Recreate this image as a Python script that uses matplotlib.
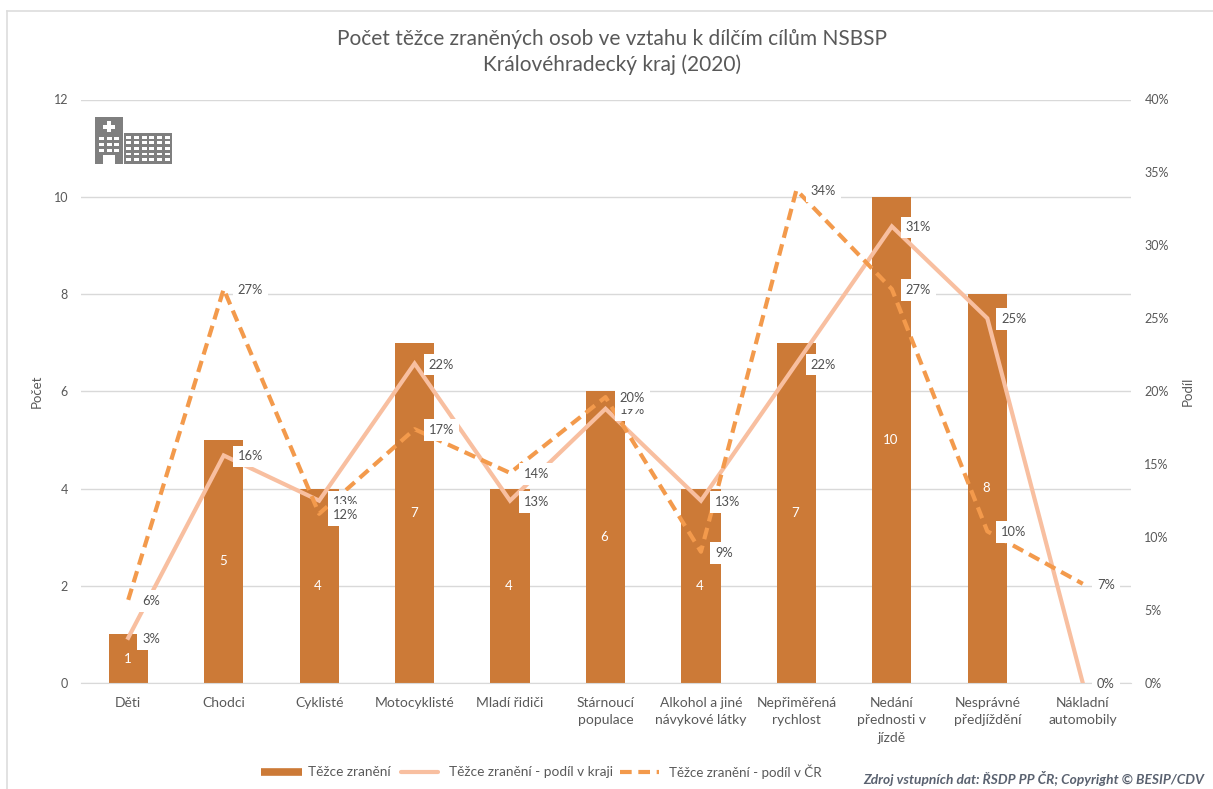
import math
import matplotlib
matplotlib.use("Agg")
import matplotlib.pyplot as plt
from matplotlib.lines import Line2D
from matplotlib.patches import Rectangle
from matplotlib.ticker import PercentFormatter

plt.rcParams['font.family'] = ['Lato', 'DejaVu Sans']

categories = ["Děti", "Chodci", "Cyklisté", "Motocyklisté", "Mladí řidiči", "Stárnoucí\npopulace",
              "Alkohol a jiné\nnávykové látky", "Nepřiměřená\nrychlost", "Nedání\npřednosti v\njízdě",
              "Nesprávné\npředjíždění", "Nákladní\nautomobily"]
counts = [1, 5, 4, 7, 4, 6, 4, 7, 10, 8, 0]
share_region = [3.1, 15.6, 12.5, 21.9, 12.5, 18.8, 12.5, 21.9, 31.3, 25.0, 0.0]
share_cr = [5.7, 27.0, 11.6, 17.4, 14.4, 19.6, 9.0, 33.8, 27.0, 10.4, 6.8]
title = "Počet těžce zraněných osob ve vztahu k dílčím cílům NSBSP\nKrálovéhradecký kraj (2020)"
source = "Zdroj vstupních dat: ŘSDP PP ČR; Copyright © BESIP/CDV"

BAR = "#CC7A37"
LIGHT = "#F8BFA0"
DASH = "#F39A4C"
TXT = "#595959"
W, H = 1213, 789

fig = plt.figure(figsize=(W / 100, H / 100), dpi=100, facecolor="white")
ax = fig.add_axes([80.5 / W, (H - 683) / H, 1050 / W, 583.5 / H])
ax2 = ax.twinx()
x = list(range(len(categories)))

ax.bar(x, counts, width=0.41, color=BAR, zorder=2)
ax.set_xlim(-0.5, 10.5)
ax.set_ylim(0, 12)
ax.set_yticks(range(0, 13, 2))
ax.grid(axis="y", color="#D9D9D9", lw=1)
ax.set_axisbelow(True)
ax.set_xticks(x, categories, linespacing=1.55)
ax.tick_params(axis="both", length=0, labelsize=9, labelcolor=TXT)
ax.tick_params(axis="x", pad=10, labelsize=10)
ax.tick_params(axis="y", pad=9)
ax.set_ylabel("Počet", fontsize=9.5, color=TXT, labelpad=8)
for v, c in zip(x, counts):
    if c:
        ax.text(v - 0.01, c / 2, str(c), color="white", fontsize=9.5, ha="center", va="center", zorder=3)

ax2.set_ylim(0, 40)
ax2.set_yticks(range(0, 41, 5))
ax2.yaxis.set_major_formatter(PercentFormatter(decimals=0))
ax2.tick_params(axis="y", length=0, labelsize=9, labelcolor=TXT, pad=10)
ax2.set_ylabel("Podíl", fontsize=9.5, color=TXT, labelpad=9)
for a in (ax, ax2):
    for s in a.spines.values():
        s.set_visible(False)
ax.spines["bottom"].set_visible(True)
ax.spines["bottom"].set_color("#D9D9D9")

ax2.plot(x, share_region, color=LIGHT, lw=3, zorder=3, solid_joinstyle="miter")
ax2.plot(x, share_cr, color=DASH, lw=3, ls=(0, (2.8, 1.6)), zorder=4)

box = dict(facecolor="white", edgecolor="none", pad=3.5)
for series, z in ((share_region, 5), (share_cr, 6)):
    for v, s in zip(x, series):
        ax2.annotate(f"{math.floor(s + 0.5)}%", (v, s), xytext=(14, -1), textcoords="offset pixels",
                     ha="left", va="center", fontsize=9.3, color="#505050", bbox=box, zorder=z,
                     annotation_clip=False)

fig.text(612 / W, 1 - 52 / H, title, ha="center", va="center", fontsize=15, color=TXT, linespacing=1.32)

# legend, placed by pixel
def pxline(x0, x1, y0, y1=None, **kw):
    y1 = y0 if y1 is None else y1
    fig.add_artist(Line2D([x0 / W, x1 / W], [1 - y0 / H, 1 - y1 / H], transform=fig.transFigure, **kw))
def pxtext(px, py, s, **kw):
    fig.text(px / W, 1 - py / H, s, va="center", **kw)
pxline(261, 302, 772, color=BAR, lw=5.5, solid_capstyle="butt")
pxtext(308, 772, "Těžce zranění", fontsize=9.8, color=TXT)
pxline(401, 438, 772, color=LIGHT, lw=3, solid_capstyle="round")
pxtext(449, 772, "Těžce zranění - podíl v kraji", fontsize=9.8, color=TXT)
pxline(620, 659, 772, color=DASH, lw=3, ls=(0, (2.8, 1.6)))
pxtext(669, 772, "Těžce zranění - podíl v ČR", fontsize=9.6, color=TXT)
pxtext(1204, 778, source, fontsize=9.9, color="#5A6270", style="italic", weight="bold", ha="right")

# chart frame remnants
pxline(6.5, 1213, 10.5, color="#DDDDDD", lw=1.2)
pxline(6.5, 6.5, 10.5, 789, color="#DDDDDD", lw=1.2)

# hospital pictogram, placed by pixel
ICON = "#7F7F7F"
def rect(px, py, w, h, color=ICON):
    fig.add_artist(Rectangle((px / W, 1 - (py + h) / H), w / W, h / H, transform=fig.transFigure,
                             facecolor=color, edgecolor="none"))
rect(95, 117, 28, 47)
rect(124, 133, 48, 31)
rect(107, 121, 4, 11, "white")
rect(103, 125, 12, 3.5, "white")
rect(103, 155, 12, 9, "white")
for r in range(3):
    for c in range(3):
        rect(98.5 + c * 8, 137 + r * 5.8, 5, 3, "white")
for r in range(5):
    for c in range(6):
        rect(126 + c * 7.8, 136 + r * 5.5, 5, 2.8, "white")

fig.savefig("out.png", dpi=100)
